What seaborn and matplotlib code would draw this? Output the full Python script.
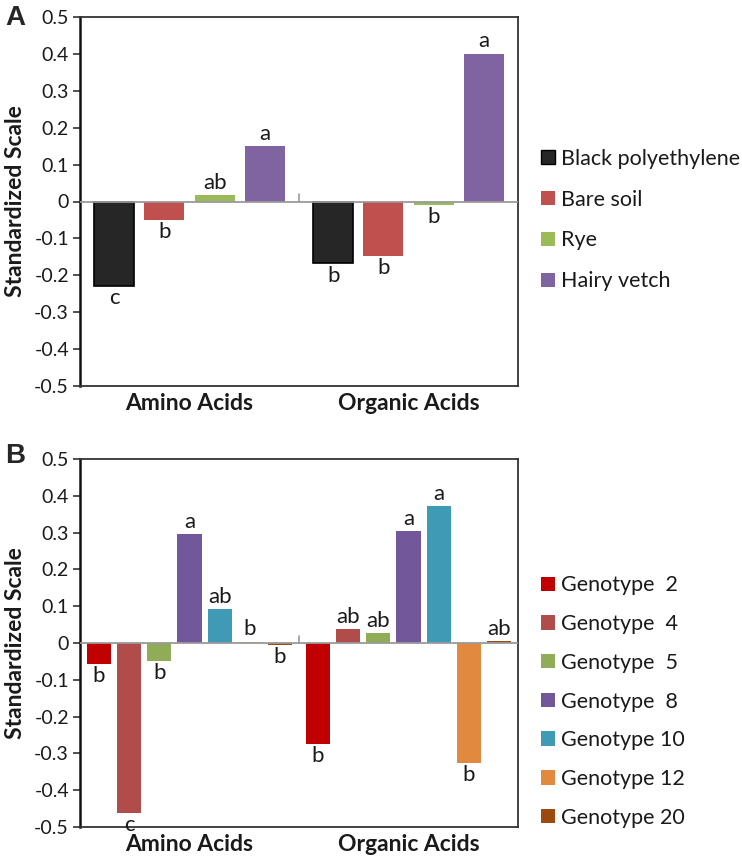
import matplotlib
matplotlib.use("Agg")
import matplotlib.pyplot as plt
import seaborn as sns
import pandas as pd

sns.set_style("white")
plt.rcParams['font.family'] = ['Lato', 'DejaVu Sans']

# ---------------- data ----------------
categories = ["Amino Acids", "Organic Acids"]

treatments_a = ["Black polyethylene", "Bare soil", "Rye", "Hairy vetch"]
values_a = {
    "Black polyethylene": [-0.228, -0.168],
    "Bare soil": [-0.050, -0.148],
    "Rye": [0.017, -0.010],
    "Hairy vetch": [0.150, 0.401],
}
letters_a = {
    "Black polyethylene": ["c", "b"],
    "Bare soil": ["b", "b"],
    "Rye": ["ab", "b"],
    "Hairy vetch": ["a", "a"],
}
colors_a = ["#262626", "#C0504D", "#9BBB59", "#8064A2"]

genotypes_b = ["Genotype  2", "Genotype  4", "Genotype  5", "Genotype  8",
               "Genotype 10", "Genotype 12", "Genotype 20"]
values_b = {
    "Genotype  2": [-0.058, -0.275],
    "Genotype  4": [-0.462, 0.038],
    "Genotype  5": [-0.048, 0.026],
    "Genotype  8": [0.295, 0.303],
    "Genotype 10": [0.093, 0.372],
    "Genotype 12": [0.004, -0.327],
    "Genotype 20": [-0.005, 0.005],
}
letters_b = {
    "Genotype  2": ["b", "b"],
    "Genotype  4": ["c", "ab"],
    "Genotype  5": ["b", "ab"],
    "Genotype  8": ["a", "a"],
    "Genotype 10": ["ab", "a"],
    "Genotype 12": ["b", "b"],
    "Genotype 20": ["b", "ab"],
}
colors_b = ["#C00000", "#B04C4A", "#8FAD58", "#72589A", "#3F9AB5", "#E0893F", "#9C4A0E"]

yticks = [-0.5, -0.4, -0.3, -0.2, -0.1, 0, 0.1, 0.2, 0.3, 0.4, 0.5]
ytick_labels = ["-0.5", "-0.4", "-0.3", "-0.2", "-0.1", "0", "0.1", "0.2", "0.3", "0.4", "0.5"]


def make_df(groups, values):
    rows = []
    for g in groups:
        for c, v in zip(categories, values[g]):
            rows.append({"category": c, "group": g, "value": v})
    return pd.DataFrame(rows)


fig = plt.figure(figsize=(7.42, 8.61), dpi=100)
W, H = 742, 861


def axes_px(x0, y0, x1, y1):
    return fig.add_axes([x0 / W, 1 - y1 / H, (x1 - x0) / W, (y1 - y0) / H])


ax_a = axes_px(80, 17, 518, 386)
ax_b = axes_px(80, 459, 518, 827)

TXT = "#1a1a1a"


def draw_panel(ax, groups, values, letters, colors, width, legend_y, labelspacing):
    df = make_df(groups, values)
    sns.barplot(data=df, x="category", y="value", hue="group", hue_order=groups,
                order=categories, palette=colors, width=width, gap=0.2,
                ax=ax, errorbar=None, linewidth=0, saturation=1)
    ax.set_ylim(-0.5, 0.5)
    ax.set_xlim(-0.5, 1.5)
    ax.set_yticks(yticks)
    ax.set_yticklabels(ytick_labels, fontsize=14, color=TXT)
    ax.tick_params(axis="y", direction="out", length=5, width=1.2, color="#333333", pad=3, left=True)
    ax.tick_params(axis="x", length=0, pad=5)
    for lab in ax.get_xticklabels():
        lab.set_fontweight("bold")
        lab.set_fontsize(16.5)
        lab.set_color(TXT)
    ax.set_xlabel("")
    ax.set_ylabel("Standardized Scale", fontsize=16.5, fontweight="bold", labelpad=6, color=TXT)
    for side in ["top", "right", "bottom", "left"]:
        ax.spines[side].set_visible(True)
        ax.spines[side].set_color("#333333")
        ax.spines[side].set_linewidth(1.3)
    ax.spines["left"].set_color("#111111")
    ax.spines["left"].set_linewidth(1.8)
    ax.axhline(0, color="#9a9a9a", lw=1.3, zorder=3)
    ax.axvline(0.5, ymin=0.5, ymax=0.52, color="#9a9a9a", lw=1.2, zorder=3)
    # letters
    for g, cont in zip(groups, ax.containers):
        for bar, lab in zip(cont, letters[g]):
            h = bar.get_height()
            xc = bar.get_x() + bar.get_width() / 2
            if h >= 0:
                ax.annotate(lab, (xc, h), xytext=(0, 1.5), textcoords="offset points",
                            ha="center", va="bottom", fontsize=16, color=TXT,
                            annotation_clip=False)
            else:
                ax.annotate(lab, (xc, h), xytext=(0, -1.5), textcoords="offset points",
                            ha="center", va="top", fontsize=16, color=TXT,
                            annotation_clip=False)
    leg = ax.legend(loc="center left", bbox_to_anchor=(1.052, legend_y), frameon=False,
                    fontsize=15.5, handlelength=0.65, handleheight=0.65, handletextpad=0.3,
                    labelspacing=labelspacing, borderpad=0, borderaxespad=0)
    for t in leg.get_texts():
        t.set_color(TXT)
    return leg


draw_panel(ax_a, treatments_a, values_a, letters_a, colors_a, 0.917, 0.45, 0.97)
draw_panel(ax_b, genotypes_b, values_b, letters_b, colors_b, 0.963, 0.341, 0.87)

# black edge on black polyethylene bars
for bar in ax_a.containers[0]:
    bar.set_edgecolor("black")
    bar.set_linewidth(1.2)
leg_a = ax_a.get_legend()
leg_a.legend_handles[0].set_edgecolor("black")
leg_a.legend_handles[0].set_linewidth(1.0)

fig.text(5 / W, 1 - 18 / H, "A", fontsize=20, fontweight="bold", va="center", ha="left",
         family=["Liberation Sans", "DejaVu Sans"])
fig.text(5 / W, 1 - 456 / H, "B", fontsize=20, fontweight="bold", va="center", ha="left",
         family=["Liberation Sans", "DejaVu Sans"])

fig.savefig("out.png", dpi=100)
